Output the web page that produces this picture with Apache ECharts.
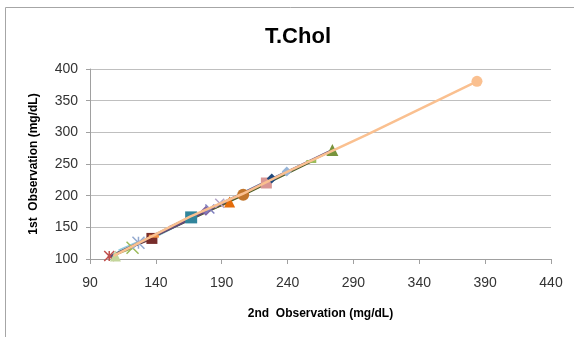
<!DOCTYPE html>
<html><head><meta charset="utf-8">
<script src="https://cdn.jsdelivr.net/npm/echarts@6/dist/echarts.min.js"></script>
<style>html,body{margin:0;padding:0;background:#fff}#c{width:574px;height:337px}</style>
</head><body><div id="c"></div>
<script>
// Each series: x values (2nd observation), y values (1st observation); marker at last point
const seriesNames = ['S1','S2','S3','S4','S5','S6','S7','S8','S9','S10','S11','S12','S13','S14','S15','S16','S17','S18'];
const seriesX = [
  [104, 104.6],
  [104, 109.3],
  [110, 122.3],
  [112, 126.8],
  [120, 137],
  [125, 138.5],
  [137, 166.8],
  [150, 178],
  [160, 181],
  [166, 188.5],
  [178, 196],
  [188, 206.3],
  [196, 223.9],
  [206, 228],
  [104, 150, 200, 239.4],
  [104, 150, 210, 258],
  [104, 160, 220, 274],
  [108, 166, 206, 240, 300, 383.8]
];
const seriesY = [
  [102, 104.6],
  [103, 104.6],
  [108, 117.8],
  [112, 125.6],
  [118, 132.5],
  [124, 136],
  [134, 165.7],
  [150, 176],
  [158, 179],
  [166, 188],
  [176, 190],
  [186, 201.4],
  [192, 220],
  [202, 227],
  [103, 149, 198, 238],
  [102, 147, 205, 254],
  [102, 157, 218, 272],
  [105, 167, 203, 238, 296, 380.6]
];
const markerColors = ['#C0504D','#C3D69B','#9BBB59','#93A9CF','#772C2A','#F79646','#31859C','#8064A2','#7F7FBF','#B3A2C7','#E46C0A','#C2762C','#D99694','#1F497D','#95B3D7','#9BBB59','#77933C','#FAC090'];
const lineColors   = ['#C0504D','#C3D69B','#9BBB59','#93CDDD','#772C2A','#F79646','#93CDDD','#8064A2','#7F7FBF','#B3A2C7','#E46C0A','#C2762C','#D99694','#1F497D','#95B3D7','#4F6228','#5F497A','#FAC090'];
const xTicks = {min: 90, max: 440, interval: 50};
const yTicks = {min: 100, max: 400, interval: 50};
const title = 'T.Chol';
const xTitle = '2nd  Observation (mg/dL)';
const yTitle = '1st  Observation (mg/dL)';

const XP = 'path://M0,0L10,10M10,0L0,10';
const STAR = 'path://M0,0L10,10M10,0L0,10M5,0L5,10';
const symbols = [STAR,'triangle',XP,STAR,'rect','rect','rect','diamond',XP,XP,'triangle','circle','rect','diamond','diamond','rect','triangle','circle'];
const sizes = [10,11,12,12,11,[10,3],12,10,9,9,11,12,11,10,10,[10,3],12,11];
const lineWidths = [2.5,2.5,2.5,4,2.5,2.5,4,2.5,1,1,2.5,2.5,2.5,2.5,2.5,2.5,2.5,2.5];

const series = seriesNames.map((n,i)=>{
  const xs = seriesX[i], ys = seriesY[i];
  const last = xs.length-1;
  const stroke = symbols[i].startsWith('path://');
  return {
    name:n, type:'line', data: xs.map((x,j)=>[x, ys[j]]),
    showSymbol:true,
    symbol:(v,p)=> p.dataIndex===last ? symbols[i] : 'none',
    symbolSize: sizes[i],
    lineStyle:{color:lineColors[i], width: lineWidths[i]},
    itemStyle:{color: stroke? 'transparent' : markerColors[i], borderColor: markerColors[i], borderWidth: stroke?1.5:0, opacity:1},
    z: i===17 ? 3 : 2,
    animation:false, silent:true
  };
});

const chart = echarts.init(document.getElementById('c'));
chart.setOption({
  animation:false,
  title:{text:title, left:293, top:21, textAlign:'center', textStyle:{fontFamily:'Liberation Sans', fontWeight:'bold', fontSize:22, color:'#000'}},
  grid:{left:90, right:23, top:69, bottom:78},
  graphic:[{type:'rect', shape:{x:5.5,y:7.5,width:600,height:400}, style:{fill:'none', stroke:'#A6A6A6', lineWidth:1}, z:-1}],
  xAxis:{type:'value', min:xTicks.min, max:xTicks.max, interval:xTicks.interval,
    name:xTitle, nameLocation:'middle', nameGap:49,
    nameTextStyle:{fontFamily:'Liberation Sans', fontWeight:'bold', fontSize:12, color:'#000'},
    axisLine:{show:true, lineStyle:{color:'#A0A0A0'}},
    axisTick:{show:true, inside:false, length:5, lineStyle:{color:'#A0A0A0'}},
    axisLabel:{fontFamily:'Liberation Sans', fontSize:14, color:'#333', margin:17},
    splitLine:{show:false}},
  yAxis:{type:'value', min:yTicks.min, max:yTicks.max, interval:yTicks.interval,
    name:yTitle, nameLocation:'middle', nameGap:50, nameRotate:90,
    nameTextStyle:{fontFamily:'Liberation Sans', fontWeight:'bold', fontSize:12, color:'#000'},
    axisLine:{show:true, lineStyle:{color:'#A0A0A0'}},
    axisTick:{show:true, length:4, lineStyle:{color:'#A0A0A0'}},
    axisLabel:{fontFamily:'Liberation Sans', fontSize:14, color:'#333', margin:12},
    splitLine:{show:true, lineStyle:{color:'#BFBFBF', width:1}}},
  series
});
</script></body></html>
